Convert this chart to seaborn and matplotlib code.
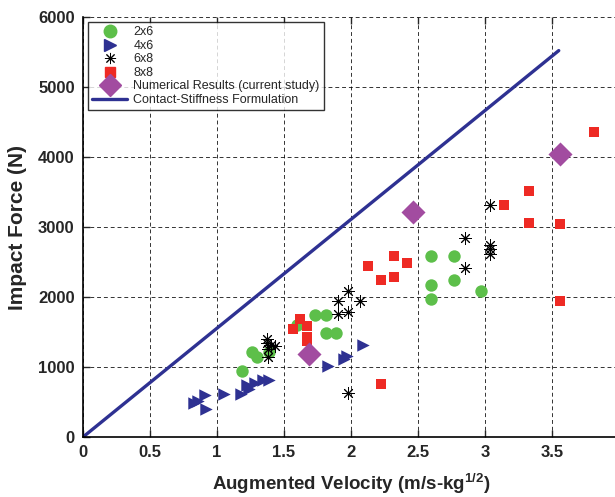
import numpy as np
import pandas as pd
import matplotlib
matplotlib.use("Agg")
import matplotlib.pyplot as plt
import seaborn as sns
from matplotlib.lines import Line2D

vel_2x6 = [1.19, 1.26, 1.30, 1.39, 1.60, 1.73, 1.81, 1.81, 1.89, 2.60, 2.77, 2.60, 2.77, 2.60, 2.97]
force_2x6 = [950, 1210, 1140, 1210, 1600, 1740, 1750, 1490, 1490, 2580, 2580, 2170, 2240, 1970, 2080]

vel_4x6 = [0.83, 0.86, 0.91, 0.92, 1.05, 1.18, 1.22, 1.24, 1.28, 1.34, 1.39, 1.83, 1.95, 1.97, 2.09]
force_4x6 = [480, 520, 600, 400, 610, 610, 740, 680, 770, 810, 820, 1010, 1120, 1160, 1320]

vel_6x8 = [1.37, 1.37, 1.40, 1.43, 1.38, 1.38, 1.90, 1.98, 1.90, 1.98, 2.07, 1.98, 2.85, 2.85, 3.04, 3.04, 3.04, 3.04]
force_6x8 = [1400, 1350, 1310, 1300, 1260, 1150, 1760, 1790, 1940, 2090, 1940, 630, 2850, 2410, 3310, 2750, 2680, 2610]

vel_8x8 = [1.57, 1.62, 1.67, 1.67, 1.67, 2.13, 2.22, 2.32, 2.32, 2.42, 2.22, 3.14, 3.33, 3.33, 3.56, 3.56, 3.81]
force_8x8 = [1550, 1680, 1590, 1430, 1370, 2440, 2250, 2580, 2290, 2480, 760, 3310, 3510, 3060, 3050, 1940, 4360]

# numerical results (current study)
vel_num = [1.69, 2.46, 3.56]
force_num = [1190, 3210, 4040]

# contact-stiffness formulation
vel_line = [0, 3.55]
force_line = [0, 5520]

x_ticks = [0, 0.5, 1, 1.5, 2, 2.5, 3, 3.5, 4]
y_ticks = [0, 1000, 2000, 3000, 4000, 5000, 6000]

BLUE = "#2e3192"


def make_plot():
    sns.set_style("white")
    plt.rcParams["font.family"] = ["Liberation Sans", "DejaVu Sans"]
    plt.rcParams["mathtext.fontset"] = "custom"
    plt.rcParams["mathtext.rm"] = "Liberation Sans"
    plt.rcParams["mathtext.bf"] = "Liberation Sans:bold"

    fig = plt.figure(figsize=(6.15, 4.97), dpi=100)
    ax = fig.add_axes([0.135, 0.1207, 0.8716, 0.8451])

    groups = [
        ("2x6", vel_2x6, force_2x6, dict(marker="o", color="#5dbf4a", s=80, linewidth=0)),
        ("4x6", vel_4x6, force_4x6, dict(marker=">", color=BLUE, s=80, linewidth=0)),
        ("6x8", vel_6x8, force_6x8, dict(marker=(8, 2, 0), color="black", s=70, linewidth=0.7)),
        ("8x8", vel_8x8, force_8x8, dict(marker="s", color="#ee2a24", s=50, linewidth=0)),
        ("Numerical Results (current study)", vel_num, force_num,
         dict(marker="D", color="#a24ca0", s=150, linewidth=0)),
    ]

    for name, xs, ys, kw in groups:
        df = pd.DataFrame({"vel": xs, "force": ys})
        sns.scatterplot(data=df, x="vel", y="force", ax=ax, zorder=3, legend=False, **kw)

    sns.lineplot(x=vel_line, y=force_line, ax=ax, color=BLUE, linewidth=2.4, zorder=2)

    ax.set_xlim(0, 4)
    ax.set_ylim(0, 6000)
    ax.set_xticks(x_ticks)
    ax.set_xticklabels(["0", "0.5", "1", "1.5", "2", "2.5", "3", "3.5", "4"])
    ax.set_yticks(y_ticks)
    ax.tick_params(direction="in", length=5, width=1, labelsize=12, pad=6,
                   bottom=True, left=True, top=True)
    for lab in ax.get_xticklabels() + ax.get_yticklabels():
        lab.set_fontweight("bold")

    ax.grid(True, color="black", linestyle=(0, (4, 3)), linewidth=0.7, alpha=0.8)
    ax.set_axisbelow(True)
    for side in ["left", "bottom"]:
        ax.spines[side].set_color("black")
        ax.spines[side].set_linewidth(1.2)
    ax.spines["top"].set_visible(False)
    ax.spines["right"].set_color("black")

    ax.set_xlabel(r"Augmented Velocity (m/s-kg$^{\mathbf{1/2}}$)", fontsize=13.5,
                  fontweight="bold", labelpad=8)
    ax.set_ylabel("Impact Force (N)", fontsize=15, fontweight="bold", labelpad=8)

    handles = [
        Line2D([], [], linestyle="none", marker="o", color="#5dbf4a", markersize=9),
        Line2D([], [], linestyle="none", marker=">", color=BLUE, markersize=9),
        Line2D([], [], linestyle="none", marker=(8, 2, 0), color="black",
               markersize=8, markeredgewidth=0.7),
        Line2D([], [], linestyle="none", marker="s", color="#ee2a24", markersize=7),
        Line2D([], [], linestyle="none", marker="D", color="#a24ca0", markersize=11),
        Line2D([], [], color=BLUE, linewidth=2.4),
    ]
    labels = ["2x6", "4x6", "6x8", "8x8", "Numerical Results (current study)",
              "Contact-Stiffness Formulation"]
    leg = ax.legend(handles, labels, loc="upper left", bbox_to_anchor=(0.009, 0.988),
                    borderaxespad=0, fontsize=9, frameon=True, fancybox=False,
                    handlelength=2.8, handletextpad=0.5, labelspacing=0.12,
                    borderpad=0.35)
    leg.get_frame().set_edgecolor("black")
    leg.get_frame().set_linewidth(1.0)

    fig.savefig("out.png", dpi=100)
    print("Saved out.png")


if __name__ == "__main__":
    make_plot()
